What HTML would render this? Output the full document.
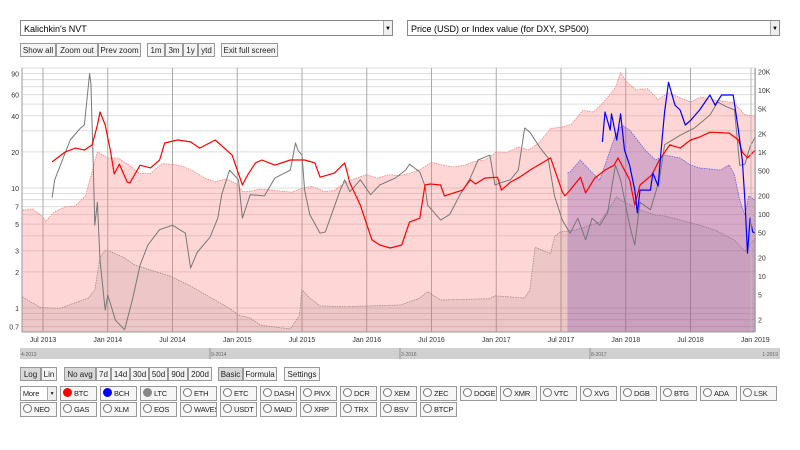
<!DOCTYPE html>
<html><head><meta charset="utf-8">
<style>
body{margin:0;width:800px;height:450px;background:#fff;font-family:"Liberation Sans","DejaVu Sans",sans-serif;position:relative;overflow:hidden}
.sel{position:absolute;top:20px;height:16px;border:1px solid #888;background:#fff;font-size:9px;line-height:16px;padding-left:3px;box-sizing:border-box}
.sel .ar{position:absolute;right:0;top:0;width:8px;height:14px;border-left:1px solid #aaa;background:#eee;font-size:6px;text-align:center}
.b{position:absolute;height:14px;border:1px solid #999;background:#f4f4f4;font-size:8px;line-height:13px;text-align:center;box-sizing:border-box;color:#222}
.b.on{background:#d8d8d8}
.cb{position:absolute;height:15px;width:37px;border:1px solid #999;background:#f6f6f6;font-size:7.5px;line-height:14px;box-sizing:border-box;color:#222;white-space:nowrap;overflow:hidden;letter-spacing:-0.2px}
.dot{display:inline-block;width:7px;height:7px;border-radius:50%;border:1px solid #777;vertical-align:-1px;margin:0 2px 0 2px;background:#fff}
</style></head><body>
<div class="sel" style="left:20px;width:373px">Kalichkin's NVT<div class="ar">▼</div></div>
<div class="sel" style="left:407px;width:373px">Price (USD) or Index value (for DXY, SP500)<div class="ar">▼</div></div>
<div class="b" style="left:20px;top:43px;width:36px">Show all</div>
<div class="b" style="left:56px;top:43px;width:42px">Zoom out</div>
<div class="b" style="left:98px;top:43px;width:43px">Prev zoom</div>
<div class="b" style="left:147px;top:43px;width:18px">1m</div>
<div class="b" style="left:165px;top:43px;width:18px">3m</div>
<div class="b" style="left:183px;top:43px;width:15px">1y</div>
<div class="b" style="left:198px;top:43px;width:17px">ytd</div>
<div class="b" style="left:221px;top:43px;width:57px">Exit full screen</div>

<svg id="chart" width="800" height="362" style="position:absolute;left:0;top:0" font-family="Liberation Sans, sans-serif"></svg>

<div class="b on" style="left:20px;top:367px;width:21px">Log</div>
<div class="b" style="left:41px;top:367px;width:16px">Lin</div>
<div class="b on" style="left:64px;top:367px;width:32px">No avg</div>
<div class="b" style="left:96px;top:367px;width:15px">7d</div>
<div class="b" style="left:111px;top:367px;width:19px">14d</div>
<div class="b" style="left:130px;top:367px;width:19px">30d</div>
<div class="b" style="left:149px;top:367px;width:19px">50d</div>
<div class="b" style="left:168px;top:367px;width:20px">90d</div>
<div class="b" style="left:188px;top:367px;width:24px">200d</div>
<div class="b on" style="left:218px;top:367px;width:25px">Basic</div>
<div class="b" style="left:243px;top:367px;width:34px">Formula</div>
<div class="b" style="left:284px;top:367px;width:36px">Settings</div>
<div id="coins"></div>

<script>
// ---- data ----
const dates = [2013.34,2013.42,2013.5,2013.52,2013.58,2013.67,2013.75,2013.83,2013.92,2013.96,2014.0,2014.08,2014.17,2014.25,2014.33,2014.42,2014.5,2014.58,2014.67,2014.75,2014.83,2014.92,2015.0,2015.04,2015.08,2015.17,2015.25,2015.33,2015.42,2015.5,2015.58,2015.67,2015.75,2015.83,2015.92,2016.0,2016.08,2016.17,2016.25,2016.33,2016.42,2016.5,2016.58,2016.67,2016.75,2016.83,2016.92,2017.0,2017.08,2017.17,2017.25,2017.33,2017.42,2017.5,2017.58,2017.67,2017.75,2017.83,2017.92,2017.96,2018.0,2018.08,2018.17,2018.25,2018.33,2018.42,2018.5,2018.58,2018.67,2018.75,2018.83,2018.92,2019.0];
const btcPrice = [115,120,90,75,105,130,135,200,1000,900,800,800,600,450,450,650,630,590,480,380,330,370,300,230,230,250,245,235,225,260,280,230,240,320,380,430,380,430,415,450,530,680,620,575,610,700,750,1000,980,1200,1080,1400,2400,2500,2800,4700,4400,6400,10900,19000,14000,10000,10500,7000,9000,7500,6400,7700,7000,6600,6300,4000,3800];

const ltcDates = [2013.34,2013.48,2013.63,2013.85,2013.9,2013.94,2013.98,2014.02,2014.13,2014.21,2014.33,2014.48,2014.64,2014.94,2015.02,2015.1,2015.18,2015.41,2015.48,2015.5,2015.56,2015.64,2015.83,2016.26,2016.41,2016.47,2016.57,2016.95,2016.99,2017.22,2017.26,2017.3,2017.42,2017.45,2017.49,2017.61,2017.8,2017.89,2017.93,2017.96,2018.11,2018.23,2018.3,2018.42,2018.57,2018.69,2018.84,2018.92,2019.0];
const ltcPrice = [4.6,3.1,3.0,4.4,5.9,20,26,25,19.5,15,12.5,10,6.9,3,2.3,2.1,1.6,1.4,2.3,6,4.4,3.3,3.2,3.4,4.4,5.6,4.1,4.3,4.8,4.4,6,29,23,42.7,51,55,74,140,190,168,116,96,93,80,66,55,38,25,41];

const bchDates = [2017.55,2017.57,2017.65,2017.72,2017.8,2017.88,2017.92,2017.97,2018.03,2018.15,2018.23,2018.3,2018.42,2018.5,2018.57,2018.73,2018.8,2018.84,2018.88,2018.92,2018.95,2019.0];
const bchPrice = [459,476,743,512,354,1077,1880,2724,2263,1077,743,895,800,617,552,512,617,426,168,96,195,168];

const btcNvtDates = [2013.57,2013.67,2013.75,2013.82,2013.88,2013.92,2013.94,2013.98,2014.02,2014.05,2014.09,2014.15,2014.17,2014.25,2014.33,2014.4,2014.44,2014.54,2014.64,2014.71,2014.83,2014.96,2015.04,2015.08,2015.14,2015.19,2015.29,2015.41,2015.52,2015.6,2015.64,2015.75,2015.83,2015.87,2015.95,2016.04,2016.1,2016.18,2016.27,2016.33,2016.41,2016.45,2016.49,2016.57,2016.6,2016.74,2016.8,2016.84,2016.91,2017.01,2017.04,2017.11,2017.18,2017.26,2017.42,2017.51,2017.53,2017.57,2017.65,2017.69,2017.76,2017.84,2017.91,2017.94,2017.99,2018.03,2018.07,2018.11,2018.2,2018.26,2018.34,2018.42,2018.5,2018.57,2018.65,2018.8,2018.87,2018.9,2018.94,2019.0];
const btcNvt = [16.5,19.9,21.5,20.7,22.9,33.5,43,33.5,20.7,13.1,15.8,11.2,11.0,15.5,14.7,17.1,23.7,25.1,24.2,21.5,25.1,18.8,10.6,12.8,16.2,17.1,15.5,17.1,17.1,16.2,12.3,13.3,16.2,11.0,7.2,3.7,3.35,3.16,3.35,5.2,5.6,10.6,10.8,10.6,8.6,9.6,11.7,10.8,12.1,12.3,9.6,11.2,12.3,14.1,17.8,9.3,8.6,9.6,12.3,9.1,12.1,14.1,15.5,17.8,14.1,11.7,7.2,10.6,12.8,17.1,22.9,21.5,25.1,26.6,29.2,28.7,25.1,19.9,17.8,20.7];

const ltcNvtDates = [2013.57,2013.59,2013.65,2013.71,2013.79,2013.82,2013.86,2013.87,2013.89,2013.9,2013.92,2013.94,2013.98,2014.0,2014.06,2014.13,2014.19,2014.25,2014.31,2014.4,2014.5,2014.6,2014.64,2014.69,2014.79,2014.85,2014.88,2014.94,2015.01,2015.04,2015.1,2015.21,2015.29,2015.41,2015.45,2015.47,2015.5,2015.52,2015.56,2015.64,2015.68,2015.79,2015.83,2015.87,2015.95,2016.03,2016.1,2016.22,2016.3,2016.33,2016.41,2016.45,2016.47,2016.57,2016.64,2016.72,2016.8,2016.86,2016.95,2016.99,2017.03,2017.11,2017.17,2017.22,2017.26,2017.34,2017.4,2017.45,2017.51,2017.57,2017.63,2017.69,2017.74,2017.8,2017.86,2017.92,2017.96,2018.03,2018.07,2018.11,2018.19,2018.26,2018.3,2018.42,2018.53,2018.65,2018.71,2018.77,2018.84,2018.88,2018.92,2018.96,2019.0];
const ltcNvt = [8.3,11.7,17.1,25.1,31.6,33.5,90,74,13.3,4.9,7.6,2.5,0.96,1.28,0.79,0.66,1.17,2.28,3.35,4.5,4.9,4.2,2.15,2.9,3.9,5.6,8.8,14.1,11.7,5.6,8.8,8.6,12.1,14.1,23.7,20.5,18.8,9.6,6.0,4.2,4.3,9.3,11.7,9.3,11.7,8.8,10.6,12.1,14.1,15.8,13.6,10.4,7.2,5.4,6.0,8.8,12.1,17.1,18.8,10.6,11.0,11.7,14.1,31.6,29.2,21.5,17.8,8.6,5.4,4.2,5.6,3.7,5.6,4.9,6.2,15.5,11.7,4.9,3.35,7.6,6.6,11.7,22.9,27.5,31.6,40.5,52,48,44.7,15.5,15.8,22.2,26.6];

const bchNvtDates = [2017.82,2017.84,2017.88,2017.89,2017.93,2017.96,2017.99,2018.03,2018.07,2018.09,2018.11,2018.19,2018.21,2018.25,2018.28,2018.3,2018.33,2018.38,2018.42,2018.46,2018.5,2018.57,2018.65,2018.69,2018.74,2018.83,2018.87,2018.9,2018.92,2018.94,2018.96,2018.98,2019.0];
const bchNvt = [24.2,43,30.4,41.5,25.1,41.5,20.7,15.5,9.6,6.2,9.6,9.6,13.3,10.4,25.1,43,76,49,44.7,33.5,36.5,44.7,59.6,49,59.6,59.6,30.4,17.1,7.9,2.87,5.6,4.3,4.2];

const leftTicks = [90,60,40,20,10,7,5,3,2,1,0.7];
const leftTickLabels = ["90","60","40","20","10","7","5","3","2","1","0.7"];
const rightTicks = [20000,10000,5000,2000,1000,500,200,100,50,20,10,5,2];
const rightTickLabels = ["20K","10K","5K","2K","1K","500","200","100","50","20","10","5","2"];
const monthTicks = [2013.5,2014,2014.5,2015,2015.5,2016,2016.5,2017,2017.5,2018,2018.5,2019];
const monthLabels = ["Jul 2013","Jan 2014","Jul 2014","Jan 2015","Jul 2015","Jan 2016","Jul 2016","Jan 2017","Jul 2017","Jan 2018","Jul 2018","Jan 2019"];
const navLabels = ["4-2013","9-2014","3-2016","8-2017","1-2019"];

// ---- scales ----
const X0=22, X1=755;
const Y0=68, Y1=332;
const x = t => 43 + (t-2013.5)*129.5;
const yL = v => 308 - 120*Math.log10(v);
const yR = v => 152 - 62*(Math.log10(v)-3);
const NS="http://www.w3.org/2000/svg";
const svg=document.getElementById('chart');
function mk(tag,attrs,parent){const e=document.createElementNS(NS,tag);for(const k in attrs)e.setAttribute(k,attrs[k]);(parent||svg).appendChild(e);return e;}

const g=mk('g',{});


for(let d=-1;d<=2;d++)for(let m=1;m<=9;m++){const v=m*Math.pow(10,d);const yy=yL(v);if(yy<Y0||yy>Y1)continue;
 const l=mk('line',{x1:X0,x2:X1,y1:yy,y2:yy,stroke:'#ddd','stroke-width':1},g);
 
 }
monthTicks.forEach((t,i)=>{const l=mk('line',{x1:x(t),x2:x(t),y1:Y0,y2:Y1,stroke:'#aaa','stroke-width':1},g);
 
 });

function area(ds,vs,fill,stroke,name){
 let d='M'+x(ds[0])+','+Y1;ds.forEach((t,i)=>d+='L'+x(t).toFixed(1)+','+yR(vs[i]).toFixed(1));d+='L'+x(ds[ds.length-1])+','+Y1+'Z';
 const p=mk('path',{d:d,fill:fill,stroke:'none'});
 
 
 let d2='';ds.forEach((t,i)=>d2+=(i?'L':'M')+x(t).toFixed(1)+','+yR(vs[i]).toFixed(1));
 const q=mk('path',{d:d2,fill:'none',stroke:stroke,'stroke-width':0.8,'stroke-dasharray':'1.5,1'});
 
 
}
function line(ds,vs,color,name,w){
 let d='';ds.forEach((t,i)=>d+=(i?'L':'M')+x(t).toFixed(1)+','+yL(vs[i]).toFixed(1));
 const p=mk('path',{d:d,fill:'none',stroke:color,'stroke-width':w,'stroke-linejoin':'round'});
 
 
}
area(dates,btcPrice,'rgba(255,120,120,0.3)','#f08080','btc-price-area');
area(ltcDates,ltcPrice,'rgba(110,90,90,0.12)','#a08888','ltc-price-area');
area(bchDates,bchPrice,'rgba(120,70,170,0.3)','#6060e0','bch-price-area');
line(ltcNvtDates,ltcNvt,'#777','ltc-nvt-line',1);
line(btcNvtDates,btcNvt,'#f00','btc-nvt-line',1.2);
line(bchNvtDates,bchNvt,'#00f','bch-nvt-line',1.2);

mk('line',{x1:X0,x2:X0,y1:Y0,y2:Y1,stroke:'#999'});
mk('line',{x1:X1,x2:X1,y1:Y0,y2:Y1,stroke:'#999'});
mk('line',{x1:X1-4,x2:X1-4,y1:Y0,y2:Y1,stroke:'#bbb'});
mk('line',{x1:X0,x2:X1,y1:Y1,y2:Y1,stroke:'#999'});

leftTicks.forEach((v,i)=>{const t=mk('text',{x:19,y:yL(v)+3,'font-size':7,'text-anchor':'end',fill:'#333'});t.textContent=leftTickLabels[i];
 
 });
rightTicks.forEach((v,i)=>{const t=mk('text',{x:758,y:yR(v)+3,'font-size':7,fill:'#333'});t.textContent=rightTickLabels[i];
 
 });
monthTicks.forEach((tt,i)=>{const t=mk('text',{x:x(tt),y:342,'font-size':7,'text-anchor':'middle',fill:'#333'});t.textContent=monthLabels[i];
 
 });

const nav=mk('rect',{x:20,y:348,width:760,height:11,fill:'#d0d0d0'});


navLabels.forEach((s,i)=>{const xx=20+i*190;
 if(i>0&&i<4)mk('line',{x1:xx,x2:xx,y1:348,y2:359,stroke:'#999'});
 const t=mk('text',{x:i==4?778:xx+1,y:356,'font-size':5,fill:'#666','text-anchor':i==4?'end':'start'});t.textContent=s;
 
 });

const row1=["More","BTC","BCH","LTC","ETH","ETC","DASH","PIVX","DCR","XEM","ZEC","DOGE","XMR","VTC","XVG","DGB","BTG","ADA","LSK"];
const row2=["NEO","GAS","XLM","EOS","WAVES","USDT","MAID","XRP","TRX","BSV","BTCP"];
const dotColor={BTC:'#f00',BCH:'#00f',LTC:'#888'};
const coins=document.getElementById('coins');
function addRow(arr,top){arr.forEach((c,i)=>{const d=document.createElement('div');d.className='cb';
 d.style.left=(20+i*40)+'px';d.style.top=top+'px';
 
 
 if(c==="More"){d.innerHTML='&nbsp;More<span style="position:absolute;right:0;top:0;width:8px;height:13px;border-left:1px solid #aaa;background:#eee;font-size:5px;text-align:center">▼</span>';d.style.background='#fff';}
 else{const col=dotColor[c];d.innerHTML='<span class="dot" style="'+(col?'background:'+col+';border-color:'+col:'')+'"></span>'+c;}
 coins.appendChild(d);});}
addRow(row1,386);addRow(row2,402);
</script>
</body></html>
